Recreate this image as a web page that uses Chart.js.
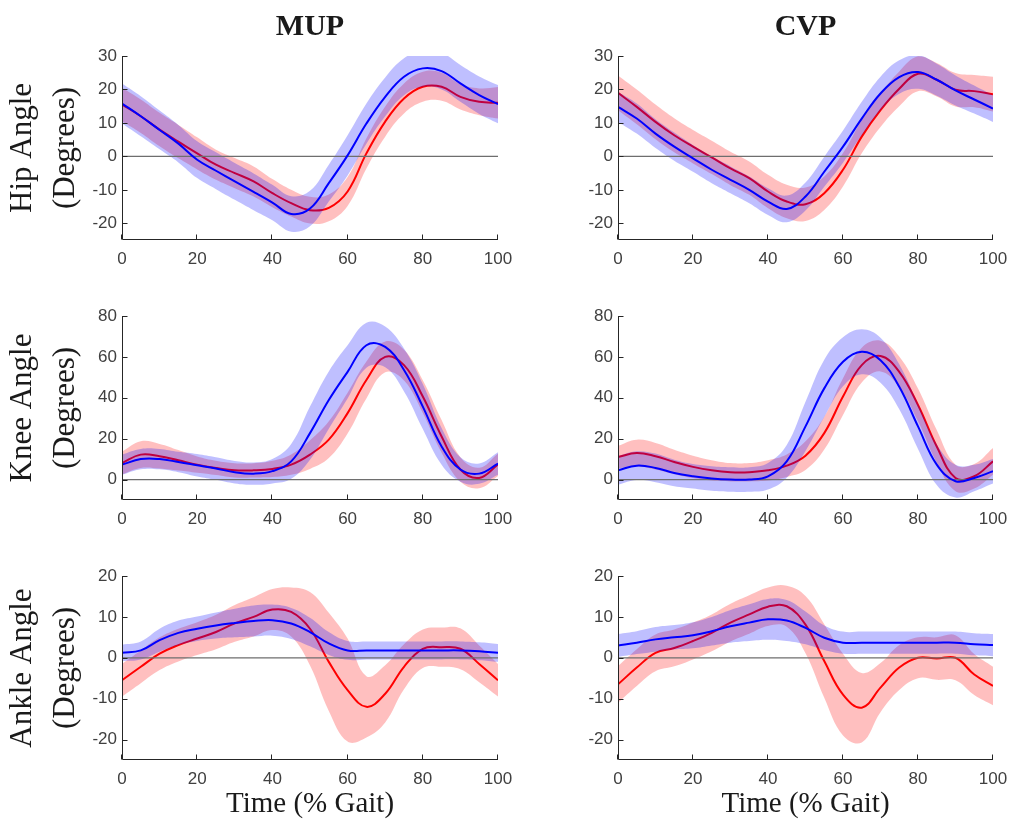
<!DOCTYPE html>
<html>
<head>
<meta charset="utf-8">
<script src="https://cdn.jsdelivr.net/npm/chart.js@4.4.1/dist/chart.umd.min.js"></script>
<style>
  html, body { margin: 0; padding: 0; background: #fff; }
  #view { position: relative; width: 1010px; height: 821px; overflow: hidden; background: #fff; }
  #view canvas { position: absolute; }
</style>
</head>
<body>
<div id="view"></div>
<script>
'use strict';

// % gait cycle, sampled every 5%
const GAIT = [0, 5, 10, 15, 20, 25, 30, 35, 40, 45, 50, 55, 60, 65, 70, 75, 80, 85, 90, 95, 100];
const X_TICKS = [0, 20, 40, 60, 80, 100];
const HIP_TICKS = [-20, -10, 0, 10, 20, 30];
const KNEE_TICKS = [0, 20, 40, 60, 80];
const ANKLE_TICKS = [-20, -10, 0, 10, 20];

// hip - MUP
const HIP_MUP_RED = [15.5, 12, 8, 4.4, 0.9, -2.5, -5, -7.5, -11, -14, -16.1, -15.4, -10.5, 0.9, 10.4, 17.3, 20.8, 20.8, 17.8, 16.3, 16];
const HIP_MUP_RED_SD = [5, 5, 5, 5, 4.8, 4.5, 4.5, 4.5, 4.2, 4, 4, 4, 4.3, 4.5, 4.5, 4.5, 4.5, 4.2, 3.8, 4, 4.7];
const HIP_MUP_BLUE = [15.8, 12, 7.9, 3.8, -1, -4.3, -7.5, -10.6, -13.8, -17.2, -15.6, -8, 0.3, 9.8, 17.8, 23.8, 26.3, 25.5, 21.8, 18.3, 15.6];
const HIP_MUP_BLUE_SD = [6, 6, 5.8, 5.6, 5.5, 5.5, 5.5, 5.5, 5.3, 5.3, 5.3, 5.5, 6, 6, 5.8, 5.5, 5.5, 5.5, 5.5, 5.6, 5.7];
// hip - CVP
const HIP_CVP_RED = [19, 14.8, 10.3, 6.3, 2.9, -0.3, -3.6, -6.5, -10.5, -13.5, -14.3, -11, -4, 5.9, 13.8, 20.2, 24.7, 22.9, 19.9, 19.5, 18.6];
const HIP_CVP_RED_SD = [5.2, 5.2, 5.2, 5.1, 5, 5, 5, 5, 5, 5, 5, 5, 5, 5, 5, 5.2, 5.2, 5, 5, 4.8, 5.2];
const HIP_CVP_BLUE = [14.8, 11.3, 6.8, 2.9, -0.6, -4, -7, -10, -13.5, -15.7, -12, -4.6, 2.9, 11.3, 18.8, 23.7, 25.2, 22.9, 19.7, 17, 14.3];
const HIP_CVP_BLUE_SD = [4.5, 4.5, 4.3, 4.2, 4, 4, 4, 4, 4, 4, 4.2, 4.5, 4.8, 5, 5, 5, 5, 4.8, 4.5, 4.2, 4];
// knee - MUP
const KNEE_MUP_RED = [8.1, 12.2, 11.4, 9.4, 7.3, 5.7, 4.5, 4.5, 5.2, 7.3, 12.2, 19.5, 32.5, 48.7, 60, 56, 40.6, 21.1, 4.9, 0.8, 7.3];
const KNEE_MUP_RED_SD = [5.5, 6.5, 6, 5, 4, 3.5, 3.5, 3.5, 4, 5, 7, 9, 10, 9, 7.5, 7.5, 8, 8, 6, 5, 5.5];
const KNEE_MUP_BLUE = [7.3, 10, 10, 8.6, 7, 5.4, 3.6, 2.9, 4.1, 8.9, 22.7, 38.9, 52.7, 65.7, 64.9, 53.6, 35.7, 16.2, 4.9, 2.9, 7.8];
const KNEE_MUP_BLUE_SD = [5, 5, 5, 5, 5.5, 5.5, 5.5, 5.5, 6, 8.5, 13, 14, 13, 11, 10, 10.5, 11, 9, 6, 5, 5.5];
// knee - CVP
const KNEE_CVP_RED = [11, 13, 11.4, 8.6, 6.2, 4.5, 3.6, 3.6, 4.5, 6.8, 11.7, 22.7, 40.6, 56, 60.4, 52.7, 36.5, 16.2, 0.8, 1.6, 8.9];
const KNEE_CVP_RED_SD = [5.5, 6.5, 6.5, 6, 5.5, 5, 4.5, 4.5, 5, 5.5, 7, 8, 9, 8.5, 7.5, 7.5, 8, 8, 6.5, 6, 6.5];
const KNEE_CVP_BLUE = [4.5, 6.8, 5.7, 3.2, 1.6, 0.5, 0, 0, 1.6, 8.9, 26, 44.6, 57.6, 62.5, 58.4, 45.4, 26, 7.3, -0.8, 0.8, 4.1];
const KNEE_CVP_BLUE_SD = [7, 7, 7, 6.5, 6, 6, 6, 6, 6.5, 8, 12, 14, 12, 11, 11, 11, 11, 10, 8, 6.5, 6];
// ankle - MUP
const ANKLE_MUP_RED = [-5.5, -2.2, 1, 3.1, 4.7, 6.3, 8.4, 10, 11.8, 11.2, 7.1, -1, -7.9, -12, -8.8, -2.2, 2.2, 2.6, 2.2, -1.5, -5.5];
const ANKLE_MUP_RED_SD = [4, 4, 4, 4, 4, 4.2, 4.5, 4.8, 5, 6, 9, 12, 12.6, 7.5, 7, 5.5, 4.7, 4.8, 5, 4.5, 4];
const ANKLE_MUP_BLUE = [1.2, 1.8, 4.3, 6.1, 7.1, 7.9, 8.5, 9, 9.2, 8.4, 6.3, 3.5, 1.8, 1.8, 1.8, 1.8, 1.8, 1.8, 1.8, 1.6, 1.2];
const ANKLE_MUP_BLUE_SD = [2, 2.2, 2.8, 3, 3, 3.2, 3.5, 3.8, 3.8, 3.8, 3.5, 2.8, 2.3, 2.2, 2.2, 2.2, 2.2, 2.2, 2.2, 2.2, 2.2];
// ankle - CVP
const ANKLE_CVP_RED = [-6.5, -2.4, 1.2, 2.4, 4.1, 6.1, 8.6, 10.6, 12.5, 12.6, 8.1, -0.8, -9, -12.2, -7.3, -2.4, 0, -0.2, 0, -4.1, -6.9];
const ANKLE_CVP_RED_SD = [4.5, 4.5, 4.5, 4.5, 4.5, 4.5, 4.6, 4.7, 4.7, 5, 7, 9, 10, 8.5, 6, 5.5, 5, 5.2, 5.5, 5, 4.7];
const ANKLE_CVP_BLUE = [3, 3.7, 4.5, 5, 5.5, 6.5, 7.7, 8.6, 9.4, 9.1, 7.3, 4.9, 3.7, 3.7, 3.7, 3.7, 3.7, 3.7, 3.7, 3.3, 3.1];
const ANKLE_CVP_BLUE_SD = [2.8, 2.8, 3, 3, 3.2, 3.5, 4, 4.5, 5, 5, 4, 3, 2.7, 2.7, 2.7, 2.7, 2.7, 2.7, 2.7, 2.7, 2.7];

const AXIS_COLOR = '#262626';
const TICK_COLOR = '#404040';
const TEXT_COLOR = '#1a1a1a';

// rows / columns of the 3x2 grid (canvas boxes)
const ROWS = [
  {top: 0, h: 270, padTop: 0, xh: 30},
  {top: 270, h: 260, padTop: 46, xh: 30},
  {top: 530, h: 291, padTop: 46, xh: 61}
];
const COLS = [
  {left: 0, w: 530, yw: 122, padRight: 32},
  {left: 510, w: 510, yw: 108, padRight: 27}
];

const panels = [
  {row: 0, col: 0, title: 'MUP', ylabel: ['Hip Angle', '(Degrees)'], ymin: -25, ymax: 30, yticks: HIP_TICKS,
   red: HIP_MUP_RED, redSd: HIP_MUP_RED_SD, blue: HIP_MUP_BLUE, blueSd: HIP_MUP_BLUE_SD},
  {row: 0, col: 1, title: 'CVP', ymin: -25, ymax: 30, yticks: HIP_TICKS,
   red: HIP_CVP_RED, redSd: HIP_CVP_RED_SD, blue: HIP_CVP_BLUE, blueSd: HIP_CVP_BLUE_SD},
  {row: 1, col: 0, ylabel: ['Knee Angle', '(Degrees)'], ymin: -10, ymax: 80, yticks: KNEE_TICKS,
   red: KNEE_MUP_RED, redSd: KNEE_MUP_RED_SD, blue: KNEE_MUP_BLUE, blueSd: KNEE_MUP_BLUE_SD},
  {row: 1, col: 1, ymin: -10, ymax: 80, yticks: KNEE_TICKS,
   red: KNEE_CVP_RED, redSd: KNEE_CVP_RED_SD, blue: KNEE_CVP_BLUE, blueSd: KNEE_CVP_BLUE_SD},
  {row: 2, col: 0, ylabel: ['Ankle Angle', '(Degrees)'], xlabel: 'Time (% Gait)', ymin: -25, ymax: 20, yticks: ANKLE_TICKS,
   red: ANKLE_MUP_RED, redSd: ANKLE_MUP_RED_SD, blue: ANKLE_MUP_BLUE, blueSd: ANKLE_MUP_BLUE_SD},
  {row: 2, col: 1, xlabel: 'Time (% Gait)', ymin: -25, ymax: 20, yticks: ANKLE_TICKS,
   red: ANKLE_CVP_RED, redSd: ANKLE_CVP_RED_SD, blue: ANKLE_CVP_BLUE, blueSd: ANKLE_CVP_BLUE_SD}
];

// matlab style axes: left + bottom line, ticks pointing inside
const matlabAxes = {
  id: 'matlabAxes',
  afterDraw(chart) {
    const ctx = chart.ctx, a = chart.chartArea;
    const xs = chart.scales.x, ys = chart.scales.y;
    ctx.save();
    ctx.strokeStyle = AXIS_COLOR;
    ctx.lineWidth = 1;
    ctx.beginPath();
    const L = Math.round(a.left) + 0.5, B = Math.round(a.bottom) - 0.5;
    ctx.moveTo(L, Math.round(a.top));
    ctx.lineTo(L, B);
    ctx.lineTo(Math.round(a.right), B);
    xs.ticks.forEach(t => {
      const px = Math.round(xs.getPixelForValue(t.value)) - 0.5;
      ctx.moveTo(px, B);
      ctx.lineTo(px, B - 5);
    });
    ys.ticks.forEach(t => {
      const py = Math.round(ys.getPixelForValue(t.value)) + 0.5;
      ctx.moveTo(L, py);
      ctx.lineTo(L + 5, py);
    });
    ctx.stroke();
    ctx.restore();
  }
};

function pts(mean, sd, sign) {
  return GAIT.map((x, i) => ({x: x, y: mean[i] + sign * sd[i]}));
}

function lineSet(data, color, width, fill, bg) {
  return {
    data: data,
    borderColor: color,
    borderWidth: width,
    backgroundColor: bg || 'transparent',
    fill: fill,
    pointRadius: 0,
    tension: 0.4
  };
}

function makePanel(p, n) {
  const r = ROWS[p.row], c = COLS[p.col];
  const canvas = document.createElement('canvas');
  canvas.id = 'panel' + n;
  canvas.width = c.w;
  canvas.height = r.h;
  canvas.style.left = c.left + 'px';
  canvas.style.top = r.top + 'px';
  document.getElementById('view').appendChild(canvas);

  // bottom -> top drawing order
  let sets = [
    lineSet(pts(p.red, p.redSd, -1), 'transparent', 0, false),
    lineSet(pts(p.red, p.redSd, 1), 'transparent', 0, '-1', 'rgba(255, 0, 0, 0.25)'),
    lineSet(pts(p.red, p.redSd, 0), '#ff0000', 2, false),
    lineSet(pts(p.blue, p.blueSd, -1), 'transparent', 0, false),
    lineSet(pts(p.blue, p.blueSd, 1), 'transparent', 0, '-1', 'rgba(0, 0, 255, 0.25)'),
    lineSet([{x: 0, y: 0}, {x: 100, y: 0}], '#6e6e6e', 1.2, false),
    lineSet(pts(p.blue, p.blueSd, 0), '#0000ff', 2, false)
  ];
  sets.forEach((s, i) => { s.order = sets.length - i; });

  new Chart(canvas.getContext('2d'), {
    type: 'line',
    data: {datasets: sets},
    options: {
      responsive: false,
      animation: false,
      layout: {padding: {top: r.padTop, right: c.padRight, bottom: 0, left: 0}},
      plugins: {
        legend: {display: false},
        tooltip: {enabled: false},
        title: {
          display: !!p.title,
          text: p.title || '',
          fullSize: false,
          color: TEXT_COLOR,
          font: {family: 'Liberation Serif', size: 30, weight: 'bold', lineHeight: 1.2},
          padding: {top: 9, bottom: 11}
        }
      },
      scales: {
        x: {
          type: 'linear',
          min: 0,
          max: 100,
          afterBuildTicks: s => { s.ticks = X_TICKS.map(v => ({value: v})); },
          afterFit: s => { s.height = r.xh; },
          grid: {display: false, drawTicks: false},
          border: {display: false},
          ticks: {color: TICK_COLOR, padding: 9, maxRotation: 0, font: {family: 'Liberation Sans', size: 17}},
          title: {
            display: !!p.xlabel,
            text: p.xlabel || '',
            color: TEXT_COLOR,
            font: {family: 'Liberation Serif', size: 29, lineHeight: 1},
            padding: {top: 0, bottom: 2}
          }
        },
        y: {
          min: p.ymin,
          max: p.ymax,
          afterBuildTicks: s => { s.ticks = p.yticks.map(v => ({value: v})); },
          afterFit: s => { s.width = c.yw; },
          grid: {display: false, drawTicks: false},
          border: {display: false},
          ticks: {color: TICK_COLOR, padding: 5, font: {family: 'Liberation Sans', size: 17}},
          title: {
            display: !!p.ylabel,
            text: p.ylabel || '',
            color: TEXT_COLOR,
            font: {family: 'Liberation Serif', size: 31, lineHeight: 1.39},
            padding: {top: 1.5, bottom: 0}
          }
        }
      }
    },
    plugins: [matlabAxes]
  });
}

panels.forEach((p, n) => makePanel(p, n));
</script>
</body>
</html>
